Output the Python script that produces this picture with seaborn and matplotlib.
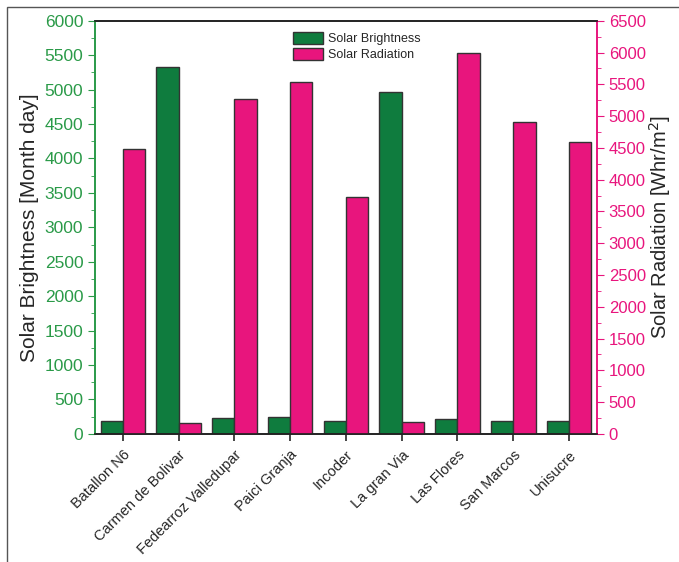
import numpy as np
import pandas as pd
import seaborn as sns
import matplotlib.pyplot as plt
from matplotlib.patches import Patch, Rectangle
from matplotlib.ticker import MultipleLocator

stations = ["Batallon N6", "Carmen de Bolivar", "Fedearroz Valledupar", "Paici Granja",
            "Incoder", "La gran Via", "Las Flores", "San Marcos", "Unisucre"]
brightness = [190, 5330, 230, 245, 190, 4960, 210, 190, 180]
radiation = [4480, 175, 5265, 5540, 3735, 190, 6000, 4905, 4600]

green = "#0f7c3e"
pink = "#e8157d"
axis_green = "#2a9a48"

df = pd.DataFrame({
    "station": stations * 2,
    "value": brightness + radiation,
    "series": ["Solar Brightness"] * len(stations) + ["Solar Radiation"] * len(stations),
})
order = ["Solar Brightness", "Solar Radiation"]
pal = {"Solar Brightness": green, "Solar Radiation": pink}

sns.set_style("ticks")
plt.rcParams["font.family"] = ["Liberation Sans", "DejaVu Sans"]

fig = plt.figure(figsize=(6.79, 5.62), dpi=100)
ax1 = fig.add_axes([0.140, 0.228, 0.739, 0.735])
ax2 = ax1.twinx()

# draw both series on each axis so the dodge positions line up, then keep
# only the series that belongs to that axis' scale
for ax, keep in ((ax1, 0), (ax2, 1)):
    sns.barplot(data=df, x="station", y="value", hue="series", hue_order=order,
                palette=pal, order=stations, width=0.8, saturation=1,
                edgecolor="#333333", linewidth=1, legend=False, ax=ax)
    for i, cont in enumerate(ax.containers):
        if i != keep:
            for p in cont.patches:
                p.set_visible(False)

ax1.set_xlim(-0.5, len(stations) - 0.5)
ax1.set_ylim(0, 6000)
ax2.set_ylim(0, 6500)
ax1.yaxis.set_major_locator(MultipleLocator(500))
ax1.yaxis.set_minor_locator(MultipleLocator(250))
ax2.yaxis.set_major_locator(MultipleLocator(500))
ax2.yaxis.set_minor_locator(MultipleLocator(250))

ax1.set_xlabel("")
ax1.set_ylabel("Solar Brightness [Month day]", fontsize=15, labelpad=4)
ax2.set_ylabel("Solar Radiation [Whr/m$^2$]", fontsize=14.5, labelpad=1)

for ax in (ax1, ax2):
    for s in ax.spines.values():
        s.set_visible(True)
        s.set_linewidth(1.2)
        s.set_color("#222222")
ax1.spines["left"].set_color(axis_green)
ax2.spines["left"].set_color(axis_green)
ax1.spines["right"].set_color(pink)
ax2.spines["right"].set_color(pink)

ax1.tick_params(axis="y", which="both", colors=axis_green, labelsize=12.5, direction="out")
ax1.tick_params(axis="y", which="major", length=5)
ax1.tick_params(axis="y", which="minor", length=3)
ax2.tick_params(axis="y", which="both", colors=pink, labelsize=12, direction="out")
ax2.tick_params(axis="y", which="major", length=5)
ax2.tick_params(axis="y", which="minor", length=3)
ax1.tick_params(axis="x", length=5, width=1.2, labelsize=10.5, pad=5)
plt.setp(ax1.get_xticklabels(), rotation=45, ha="right", rotation_mode="anchor")

handles = [Patch(facecolor=green, edgecolor="#333333", label="Solar Brightness"),
           Patch(facecolor=pink, edgecolor="#333333", label="Solar Radiation")]
ax2.legend(handles=handles, loc="upper left", bbox_to_anchor=(0.373, 1.0), frameon=False,
           fontsize=9, handlelength=2.4, handleheight=1.1, labelspacing=0.2, handletextpad=0.4)

fig.patches.append(Rectangle((7 / 679, -0.01), 1.0, 1 - 7 / 562 + 0.01, transform=fig.transFigure,
                             fill=False, edgecolor="#555555", linewidth=1))

fig.savefig("out.png", dpi=100)
